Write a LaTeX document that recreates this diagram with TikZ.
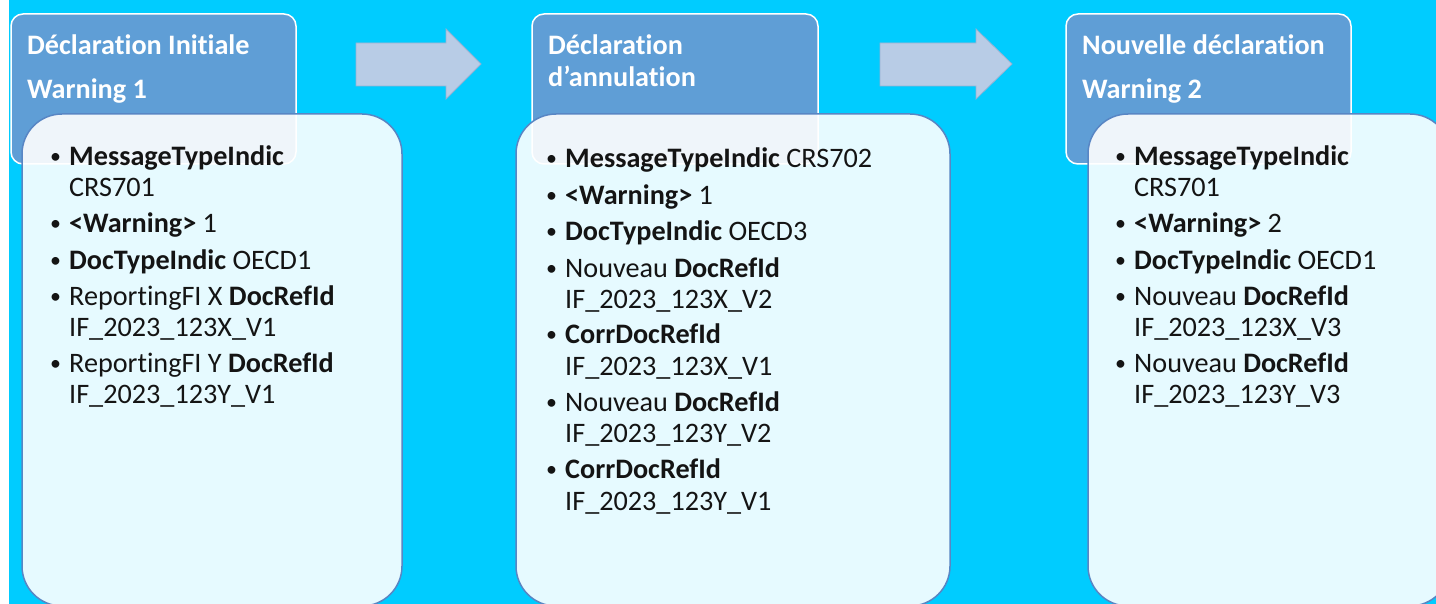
\documentclass[tikz,border=0pt]{standalone}
\usepackage{fontspec}
\setmainfont{Carlito}[Ligatures=CommonOff]
\definecolor{bgcyan}{RGB}{0,204,255}
\definecolor{hdrblue}{RGB}{95,158,214}
\definecolor{boxedge}{RGB}{88,134,196}
\definecolor{arrowfill}{RGB}{184,204,230}
\definecolor{arrowedge}{RGB}{150,178,212}
\definecolor{txtcol}{RGB}{20,20,20}
\tikzset{
  header/.style={fill=hdrblue, draw=white, line width=1.5bp, rounded corners=12bp},
  content/.style={fill=white, fill opacity=0.9, draw=boxedge, draw opacity=1, line width=1.5bp, rounded corners=40bp},
  blockarrow/.style={fill=arrowfill, draw=arrowedge, line width=0.75bp},
  htxt/.style={anchor=base west, inner sep=0pt, yshift=-2bp, text=white, font=\fontsize{28.3}{32}\selectfont\bfseries},
  txt/.style={anchor=base west, inner sep=0pt, yshift=-1.5bp, text=txtcol, font=\fontsize{28.3}{31}\selectfont},
  bul/.style={anchor=base west, inner sep=0pt, yshift=-1.5bp, text=txtcol, font=\fontsize{22}{31}\selectfont}
}
\begin{document}
\begin{tikzpicture}[x=1bp,y=-1bp]
\useasboundingbox (0,0) rectangle (1436,604);
\clip (0,0) rectangle (1436,604);
\fill[white] (0,0) rectangle (1436,604);
\fill[bgcyan] (9,0) rectangle (1436,604);

% arrows
\draw[blockarrow] (356,43) -- (446,43) -- (446,29) -- (481,64) -- (446,99) -- (446,86) -- (356,86) -- cycle;
\draw[blockarrow] (880,43) -- (976,43) -- (976,29) -- (1012,64) -- (976,99) -- (976,86) -- (880,86) -- cycle;

% column 1
\draw[header] (11,14) rectangle (296,164);
\node[htxt] (h1a) at (27,53) {Déclaration Initiale};
\node[htxt] (h1b) at (27,97) {Warning 1};
\draw[content] (22,114) rectangle (402,606);
\node[bul] (b1a) at (50,162) {•};
\node[txt] (t1a) at (69,164) {\textbf{MessageTypeIndic}};
\node[txt] (t1b) at (69,195) {CRS701};
\node[bul] (b1c) at (50,229) {•};
\node[txt] (t1c) at (69,231) {\textbf{<Warning>} 1};
\node[bul] (b1d) at (50,266) {•};
\node[txt] (t1d) at (69,268) {\textbf{DocTypeIndic} OECD1};
\node[bul] (b1e) at (50,302) {•};
\node[txt] (t1e) at (69,304) {ReportingFI X \textbf{DocRefId}};
\node[txt] (t1f) at (69,335) {IF\_2023\_123X\_V1};
\node[bul] (b1g) at (50,369) {•};
\node[txt] (t1g) at (69,371) {ReportingFI Y \textbf{DocRefId}};
\node[txt] (t1h) at (69,402) {IF\_2023\_123Y\_V1};

% column 2
\draw[header] (532,14) rectangle (818,164);
\node[htxt] (h2a) at (548,53) {Déclaration};
\node[htxt] (h2b) at (548,85) {d’annulation};
\draw[content] (516,114) rectangle (950,606);
\node[bul] (b2a) at (546,164) {•};
\node[txt] (t2a) at (565,166) {\textbf{MessageTypeIndic} CRS702};
\node[bul] (b2b) at (546,201) {•};
\node[txt] (t2b) at (565,203) {\textbf{<Warning>} 1};
\node[bul] (b2c) at (546,237) {•};
\node[txt] (t2c) at (565,239) {\textbf{DocTypeIndic} OECD3};
\node[bul] (b2d) at (546,274) {•};
\node[txt] (t2d) at (565,276) {Nouveau \textbf{DocRefId}};
\node[txt] (t2e) at (565,307) {IF\_2023\_123X\_V2};
\node[bul] (b2f) at (546,340) {•};
\node[txt] (t2f) at (565,342) {\textbf{CorrDocRefId}};
\node[txt] (t2g) at (565,374) {IF\_2023\_123X\_V1};
\node[bul] (b2h) at (546,408) {•};
\node[txt] (t2h) at (565,410) {Nouveau \textbf{DocRefId}};
\node[txt] (t2i) at (565,441) {IF\_2023\_123Y\_V2};
\node[bul] (b2j) at (546,475) {•};
\node[txt] (t2j) at (565,477) {\textbf{CorrDocRefId}};
\node[txt] (t2k) at (565,509) {IF\_2023\_123Y\_V1};

% column 3
\draw[header] (1066,14) rectangle (1351,164);
\node[htxt] (h3a) at (1082,53) {Nouvelle déclaration};
\node[htxt] (h3b) at (1082,97) {Warning 2};
\draw[content] (1088,114) rectangle (1450,606);
\node[bul] (b3a) at (1115,162) {•};
\node[txt] (t3a) at (1134,164) {\textbf{MessageTypeIndic}};
\node[txt] (t3b) at (1134,195) {CRS701};
\node[bul] (b3c) at (1115,229) {•};
\node[txt] (t3c) at (1134,231) {\textbf{<Warning>} 2};
\node[bul] (b3d) at (1115,266) {•};
\node[txt] (t3d) at (1134,268) {\textbf{DocTypeIndic} OECD1};
\node[bul] (b3e) at (1115,302) {•};
\node[txt] (t3e) at (1134,304) {Nouveau \textbf{DocRefId}};
\node[txt] (t3f) at (1134,335) {IF\_2023\_123X\_V3};
\node[bul] (b3g) at (1115,369) {•};
\node[txt] (t3g) at (1134,371) {Nouveau \textbf{DocRefId}};
\node[txt] (t3h) at (1134,402) {IF\_2023\_123Y\_V3};
\end{tikzpicture}
\end{document}
